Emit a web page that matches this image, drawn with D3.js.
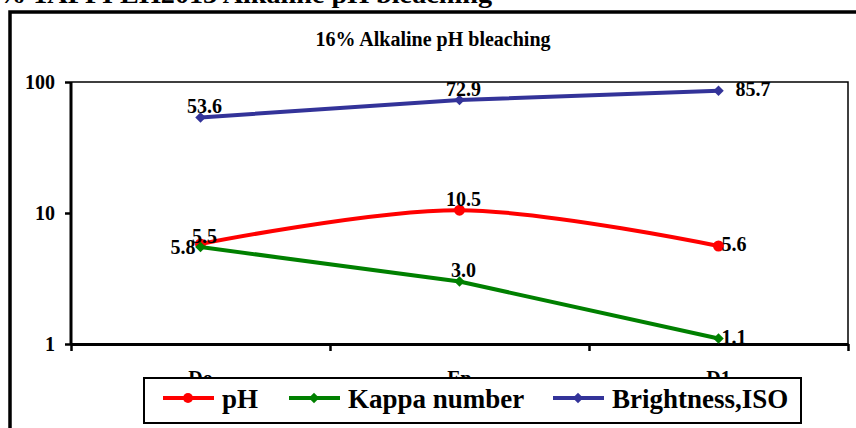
<!DOCTYPE html>
<html lang="en">
<head>
<meta charset="UTF-8">
<title>16% Alkaline pH bleaching</title>
<style>
  body { margin: 0; background: #fff; }
  svg { display: block; }
  text { font-family: "Liberation Serif", "Times New Roman", serif; font-weight: bold; fill: #000; }
  .axis path, .axis line { stroke: #000; }
</style>
</head>
<body>
<svg width="856" height="428"></svg>
<script src="https://d3js.org/d3.v7.min.js"></script>
<script>
  // data
  const categories = ['Do', 'Ep', 'D1'];
  const phValues = [5.8, 10.5, 5.6];
  const kappaValues = [5.5, 3.0, 1.1];
  const brightnessValues = [53.6, 72.9, 85.7];
  const yTicks = [1, 10, 100];
  const phLabelPos = ['left', 'above', 'right'];
  const kappaLabelPos = ['above', 'above', 'right'];
  const brightLabelPos = ['above', 'above', 'right'];

  // label offsets per placement
  const labelOffset = {
    above: { dx: 4, dy: -4, anchor: 'middle' },
    left: { dx: -5, dy: 10, anchor: 'end' },
    right: { dx: 3, dy: 5, anchor: 'start' }
  };

  const series = [
    { name: 'pH', values: phValues, pos: phLabelPos, color: '#ff0000', marker: 'circle', smooth: true },
    { name: 'Kappa number', values: kappaValues, pos: kappaLabelPos, color: '#008000', marker: 'diamond', smooth: false },
    { name: 'Brightness,ISO', values: brightnessValues, pos: brightLabelPos, color: '#333399', marker: 'diamond', smooth: false, rightDx: 17 }
  ];

  const svg = d3.select('svg');
  const plot = { left: 71, right: 848, top: 82, bottom: 344 };

  // header cut off at the top of the figure
  svg.append('text')
    .attr('x', -2).attr('y', 3)
    .attr('font-size', 26)
    .attr('textLength', 494).attr('lengthAdjust', 'spacingAndGlyphs')
    .text('% 1APPI EH2013 Alkaline pH bleaching');

  // outer chart frame (runs off the right and bottom)
  svg.append('rect')
    .attr('x', 10).attr('y', 12).attr('width', 900).attr('height', 500)
    .attr('fill', 'none').attr('stroke', '#000').attr('stroke-width', 3.5);

  svg.append('text')
    .attr('x', 433).attr('y', 46)
    .attr('text-anchor', 'middle').attr('font-size', 20)
    .text('16% Alkaline pH bleaching');

  const x = d3.scaleBand().domain(categories).range([plot.left, plot.right]);
  const y = d3.scaleLog().domain([1, 100]).range([plot.bottom, plot.top]);

  // thin top / right border of the plot area
  svg.append('path')
    .attr('d', `M${plot.left},${plot.top}H${plot.right}V${plot.bottom}`)
    .attr('fill', 'none').attr('stroke', '#000').attr('stroke-width', 1.5);

  const yAxis = svg.append('g').attr('class', 'axis')
    .attr('transform', `translate(${plot.left},0)`)
    .call(d3.axisLeft(y).tickValues(yTicks).tickFormat(d3.format('d')).tickSize(6).tickPadding(10));
  yAxis.select('.domain').attr('stroke-width', 3).attr('d', `M0,${plot.top}V${plot.bottom}`);
  yAxis.selectAll('line').attr('stroke-width', 2.5);
  yAxis.selectAll('text').attr('font-size', 20).attr('dy', '0.33em');

  // category boundaries carry the ticks
  const xb = d3.scaleLinear().domain([0, categories.length]).range([plot.left, plot.right]);
  const xAxis = svg.append('g').attr('class', 'axis')
    .attr('transform', `translate(0,${plot.bottom})`)
    .call(d3.axisBottom(xb).ticks(categories.length).tickFormat('').tickSize(7).tickSizeOuter(0));
  xAxis.select('.domain').attr('stroke-width', 3);
  xAxis.selectAll('line').attr('stroke-width', 2.5);

  svg.append('g').selectAll('text').data(categories).join('text')
    .attr('x', d => x(d) + x.bandwidth() / 2)
    .attr('y', 385)
    .attr('text-anchor', 'middle').attr('font-size', 20)
    .text(d => d);

  const cx = (d, i) => x(categories[i]) + x.bandwidth() / 2;
  const diamond = d3.symbol().type(d3.symbolDiamond2).size(70);

  series.forEach(s => {
    const line = d3.line()
      .x(cx).y(d => y(d))
      .curve(s.smooth ? d3.curveCardinal.tension(0) : d3.curveLinear);
    svg.append('path').datum(s.values)
      .attr('d', line)
      .attr('fill', 'none').attr('stroke', s.color).attr('stroke-width', 4);

    const g = svg.append('g');
    if (s.marker === 'circle') {
      g.selectAll('circle').data(s.values).join('circle')
        .attr('cx', cx).attr('cy', d => y(d)).attr('r', 5.5).attr('fill', s.color);
    } else {
      g.selectAll('path').data(s.values).join('path')
        .attr('d', diamond)
        .attr('transform', (d, i) => `translate(${cx(d, i)},${y(d)})`)
        .attr('fill', s.color);
    }

    g.selectAll('text').data(s.values).join('text')
      .attr('font-size', 20)
      .attr('x', (d, i) => {
        const o = labelOffset[s.pos[i]];
        const dx = s.pos[i] === 'right' && s.rightDx ? s.rightDx : o.dx;
        return cx(d, i) + dx;
      })
      .attr('y', (d, i) => y(d) + labelOffset[s.pos[i]].dy)
      .attr('text-anchor', (d, i) => labelOffset[s.pos[i]].anchor)
      .text(d => d3.format('.1f')(d));
  });

  // legend
  const legend = svg.append('g');
  legend.append('rect')
    .attr('x', 144).attr('y', 378).attr('width', 657).attr('height', 45)
    .attr('fill', '#fff').attr('stroke', '#000').attr('stroke-width', 2);
  const legendX = [163, 289, 553];
  series.forEach((s, i) => {
    const lx = legendX[i];
    legend.append('line')
      .attr('x1', lx).attr('x2', lx + 51).attr('y1', 398).attr('y2', 398)
      .attr('stroke', s.color).attr('stroke-width', 4);
    if (s.marker === 'circle') {
      legend.append('circle').attr('cx', lx + 25).attr('cy', 398).attr('r', 5).attr('fill', s.color);
    } else {
      legend.append('path').attr('d', diamond).attr('transform', `translate(${lx + 25},398)`).attr('fill', s.color);
    }
    legend.append('text')
      .attr('x', lx + 59).attr('y', 408).attr('font-size', 27)
      .text(s.name);
  });
</script>
</body>
</html>
